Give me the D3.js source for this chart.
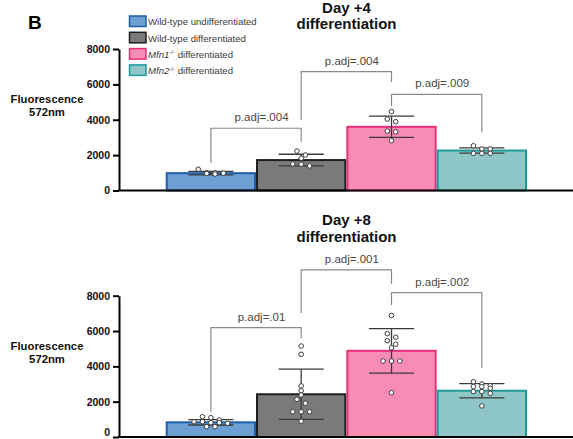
<!DOCTYPE html>
<html>
<head>
<meta charset="utf-8">
<script src="https://cdn.jsdelivr.net/npm/d3@7"></script>
<style>
  html, body { margin: 0; padding: 0; background: #fff; }
  svg { display: block; font-family: "Liberation Sans", Arial, Helvetica, sans-serif; }
</style>
</head>
<body>
<svg id="chart" width="573" height="439"></svg>
<script>
// ---- Groups and styling ----
const groups = ["wtUndiff", "wtDiff", "mfn1", "mfn2"];
const fills   = ["#6d9fd3", "#7a7a7a", "#f78db5", "#8ec6c7"];
const strokes = ["#1f5ea8", "#1e1e1e", "#e6307a", "#1d9a9b"];
const yTicks = [0, 2000, 4000, 6000, 8000];

// ---- Day +4 ----
const day4Means = [980, 1720, 3600, 2260];
const day4SD    = [100, 330, 600, 150];
const day4Points = [
  [930, 960, 980, 1000, 1000, 1200],
  [2230, 2010, 1820, 1500, 1390, 1480],
  [4460, 4040, 3890, 3360, 3320, 2820],
  [2100, 2350, 2530, 2100, 2350, 2100]
];
// pairwise comparisons: bracket level and leg ends in fluorescence units
const day4Tests = [
  { from: 0, to: 1, label: "p.adj=.004", level: 3520, leftEnd: 1570, rightEnd: 2760 },
  { from: 1, to: 2, label: "p.adj=.004", level: 6720, leftEnd: 3990, rightEnd: 6120 },
  { from: 2, to: 3, label: "p.adj=.009", level: 5440, leftEnd: 4780, rightEnd: 3290 }
];

// ---- Day +8 ----
const day8Means = [830, 2420, 4880, 2620];
const day8SD    = [150, 1420, 1260, 400];
const day8Points = [
  [866, 583, 1093, 810, 962, 775, 1150, 866, 810, 583],
  [5150, 4680, 2890, 2620, 2380, 2130, 1910, 1430, 1430, 1430, 890],
  [6880, 5850, 5650, 5450, 5250, 5050, 4300, 4300, 4300, 2510],
  [3000, 2850, 3130, 2850, 2570, 2760, 2470, 2910, 2570, 1760]
];
const day8Tests = [
  { from: 0, to: 1, label: "p.adj=.01",  level: 6190, leftEnd: 1430, rightEnd: 5590 },
  { from: 1, to: 2, label: "p.adj=.001", level: 9460, leftEnd: 7000, rightEnd: 8660 },
  { from: 2, to: 3, label: "p.adj=.002", level: 8170, leftEnd: 7470, rightEnd: 3890 }
];

const panels = [
  { title: ["Day +4", "differentiation"], titleY: 12.5, yMax: 49, yZero: 190.5,
    means: day4Means, sd: day4SD, points: day4Points, tests: day4Tests },
  { title: ["Day +8", "differentiation"], titleY: 225, yMax: 295.7, yZero: 437,
    means: day8Means, sd: day8SD, points: day8Points, tests: day8Tests }
];

const W = 573, H = 439;
const axisX = 119;
const svg = d3.select("#chart");

const x = d3.scaleBand().domain(groups).range([165.7, 527]).padding(0);
const bw = x.bandwidth();

// Spread points that sit at nearly the same height into centred rows
function layoutRow(values, y, cx) {
  const sorted = values.map(v => ({ v, py: y(v) })).sort((a, b) => a.py - b.py);
  const rows = [];
  sorted.forEach(p => {
    const row = rows[rows.length - 1];
    if (row && p.py - row[0].py < 4) row.push(p); else rows.push([p]);
  });
  const step = 8.4;
  const out = [];
  rows.forEach(row => {
    row.forEach((p, i) => out.push({ px: cx + (i - (row.length - 1) / 2) * step, py: p.py }));
  });
  return out;
}

panels.forEach(panel => {
  const y = d3.scaleLinear().domain([0, 8000]).range([panel.yZero, panel.yMax]);
  const g = svg.append("g");

  // title
  const t = g.append("text")
    .attr("x", 346.5).attr("y", panel.titleY)
    .attr("text-anchor", "middle")
    .attr("font-weight", "bold").attr("font-size", 15).attr("fill", "#111");
  panel.title.forEach((line, i) => {
    t.append("tspan").attr("x", 346.5).attr("dy", i === 0 ? 0 : 16.5).text(line);
  });

  // y-axis label
  const yl = g.append("text")
    .attr("text-anchor", "middle").attr("font-weight", "bold")
    .attr("font-size", 11.3).attr("fill", "#111");
  yl.append("tspan").attr("x", 47).attr("y", panel.yZero - 87.2).text("Fluorescence");
  yl.append("tspan").attr("x", 47).attr("y", panel.yZero - 74.5).text("572nm");

  // bars
  g.selectAll("rect.bar").data(groups).join("rect")
    .attr("class", "bar")
    .attr("x", d => x(d) + 1)
    .attr("width", bw - 2)
    .attr("y", (d, i) => y(panel.means[i]))
    .attr("height", (d, i) => y(0) - y(panel.means[i]))
    .attr("fill", (d, i) => fills[i])
    .attr("stroke", (d, i) => strokes[i])
    .attr("stroke-width", 2);

  // significance brackets
  panel.tests.forEach(tt => {
    const xl = x(groups[tt.from]) + bw / 2;
    const xr = x(groups[tt.to]) + bw / 2;
    g.append("path")
      .attr("d", `M${xl},${y(tt.leftEnd)}V${y(tt.level)}H${xr}V${y(tt.rightEnd)}`)
      .attr("fill", "none").attr("stroke", "#8a8a8a").attr("stroke-width", 1.2);
    g.append("text")
      .attr("x", (xl + xr) / 2 + 5.5).attr("y", y(tt.level) - 7)
      .attr("text-anchor", "middle").attr("font-size", 11.5).attr("fill", "#474747")
      .text(tt.label);
  });

  // error bars (mean ± SD)
  groups.forEach((gname, i) => {
    const cx = x(gname) + bw / 2;
    const hi = y(panel.means[i] + panel.sd[i]);
    const lo = y(Math.max(0, panel.means[i] - panel.sd[i]));
    const eb = g.append("g").attr("stroke", "#3a3a3a").attr("stroke-width", 1.3);
    eb.append("line").attr("x1", cx).attr("x2", cx).attr("y1", hi).attr("y2", lo);
    eb.append("line").attr("x1", cx - bw / 4).attr("x2", cx + bw / 4).attr("y1", hi).attr("y2", hi);
    eb.append("line").attr("x1", cx - bw / 4).attr("x2", cx + bw / 4).attr("y1", lo).attr("y2", lo);
  });

  // individual replicates
  groups.forEach((gname, i) => {
    const cx = x(gname) + bw / 2;
    g.selectAll(null).data(layoutRow(panel.points[i], y, cx)).join("circle")
      .attr("cx", d => d.px).attr("cy", d => d.py).attr("r", 2.3)
      .attr("fill", "#fff").attr("stroke", "#3c3c3c").attr("stroke-width", 1);
  });

  // y axis
  const ax = g.append("g").attr("transform", `translate(${axisX},0)`)
    .call(d3.axisLeft(y).tickValues(yTicks).tickSize(6).tickSizeOuter(0).tickPadding(3)
      .tickFormat(d3.format("d")));
  ax.select(".domain").attr("stroke", "#000").attr("stroke-width", 2);
  ax.selectAll(".tick line").attr("stroke", "#000").attr("stroke-width", 2);
  ax.selectAll(".tick text").attr("font-size", 10.5).attr("font-weight", "bold")
    .attr("font-family", "Liberation Sans, Arial, sans-serif").attr("fill", "#111")
    // keep the lowest label inside the drawing area
    .attr("dy", d => (y(d) + 4 > H ? "-0.15em" : "0.32em"));

  // x baseline
  g.append("line").attr("x1", axisX - 1).attr("x2", W).attr("y1", y(0)).attr("y2", y(0))
    .attr("stroke", "#000").attr("stroke-width", 2);
});

// panel letter
svg.append("text").attr("x", 28).attr("y", 28.5)
  .attr("font-weight", "bold").attr("font-size", 19).attr("fill", "#000").text("B");

// legend
const legendItems = [
  [{ t: "Wild-type undifferentiated" }],
  [{ t: "Wild-type differentiated" }],
  [{ t: "Mfn1", it: true }, { t: "-/-", sup: true }, { t: " differentiated" }],
  [{ t: "Mfn2", it: true }, { t: "-/-", sup: true }, { t: " differentiated" }]
];
const lg = svg.append("g");
legendItems.forEach((parts, i) => {
  const top = 16 + i * 16.3;
  lg.append("rect").attr("x", 129.5).attr("y", top).attr("width", 16.5).attr("height", 10.5)
    .attr("fill", fills[i]).attr("stroke", strokes[i]).attr("stroke-width", 1.5);
  const tx = lg.append("text").attr("x", 148).attr("y", top + 9.2)
    .attr("font-size", 9.6).attr("fill", "#3a3a3a");
  parts.forEach(p => {
    const s = tx.append("tspan").text(p.t);
    if (p.it) s.attr("font-style", "italic");
    if (p.sup) s.attr("font-size", 6).attr("dy", -3.5);
    else if (parts.length > 1 && p.t.startsWith(" ")) s.attr("dy", 3.5);
  });
});
</script>
</body>
</html>
